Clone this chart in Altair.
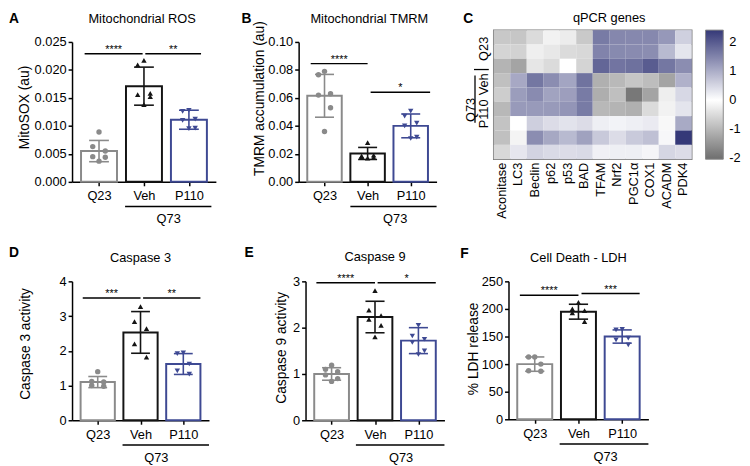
import altair as alt
import pandas as pd

FONT = "Liberation Sans"

groups = ["Q23", "Veh", "P110"]
group_colors = ["#8a8a8a", "#141414", "#3e4993"]
group_shapes = ["circle", "triangle-up", "triangle-down"]
bracket_label = "Q73"

# ---------------- A: Mitochondrial ROS ----------------
a_means = [0.0055, 0.0171, 0.0111]
a_sds = [0.0019, 0.0034, 0.0017]
a_q23 = [0.0089, 0.0063, 0.0055, 0.0045, 0.0044, 0.0037]
a_veh = [0.0217, 0.0209, 0.0158, 0.0156, 0.0152, 0.0138]
a_p110 = [0.0128, 0.0126, 0.0112, 0.0110, 0.0096, 0.0095]
a_ticks = [0, 0.005, 0.010, 0.015, 0.020, 0.025]
a_sig_x1 = [-0.32, 1.03]
a_sig_x2 = [0.97, 2.27]
a_sig_y = [0.0229, 0.0229]
a_sig_txt = ["****", "**"]

# ---------------- B: Mitochondrial TMRM ----------------
b_means = [0.0615, 0.0203, 0.0400]
b_sds = [0.0153, 0.0043, 0.0085]
b_q23 = [0.079, 0.0765, 0.063, 0.062, 0.053, 0.036]
b_veh = [0.028, 0.0185, 0.019, 0.018, 0.0175, 0.017]
b_p110 = [0.0505, 0.047, 0.042, 0.040, 0.032, 0.031]
b_ticks = [0, 0.02, 0.04, 0.06, 0.08, 0.10]
b_sig_x1 = [-0.32, 1.07]
b_sig_x2 = [1.0, 2.45]
b_sig_y = [0.0845, 0.064]
b_sig_txt = ["****", "*"]

# ---------------- D: Caspase 3 ----------------
d_means = [1.10, 2.53, 1.62]
d_sds = [0.16, 0.60, 0.30]
d_q23 = [1.40, 1.12, 1.10, 1.00, 0.98]
d_veh = [3.27, 2.84, 2.64, 2.20, 1.82]
d_p110 = [1.94, 1.92, 1.62, 1.42, 1.33]
d_ticks = [0, 1, 2, 3, 4]
d_sig_x1 = [-0.35, 1.06]
d_sig_x2 = [1.0, 2.4]
d_sig_y = [3.52, 3.52]
d_sig_txt = ["***", "**"]

# ---------------- E: Caspase 9 ----------------
e_means = [1.00, 2.23, 1.72]
e_sds = [0.135, 0.34, 0.28]
e_q23 = [1.19, 1.10, 1.05, 0.98, 0.90, 0.84]
e_veh = [2.80, 2.38, 2.26, 2.18, 2.05, 1.80]
e_p110 = [2.05, 1.82, 1.75, 1.68, 1.50, 1.42]
e_ticks = [0, 1, 2, 3]
e_sig_x1 = [-0.35, 1.06]
e_sig_x2 = [1.0, 2.4]
e_sig_y = [2.97, 2.97]
e_sig_txt = ["****", "*"]

# ---------------- F: Cell Death - LDH ----------------
f_means = [100, 195, 150]
f_sds = [13, 13.5, 12]
f_q23 = [113, 113, 100, 88, 87]
f_veh = [212, 200, 197, 193, 177]
f_p110 = [163, 162, 147, 144, 135]
f_ticks = [0, 50, 100, 150, 200, 250]
f_sig_x1 = [-0.34, 1.07]
f_sig_x2 = [1.0, 2.4]
f_sig_y = [225, 228]
f_sig_txt = ["****", "***"]

# ---------------- C: qPCR heatmap ----------------
genes = ["Aconitase", "LC3", "Beclin", "p62", "p53", "BAD", "TFAM", "Nrf2",
         "PGC1α", "COX1", "ACADM", "PDK4"]
heat_q23 = [
    [-0.77, -0.80, -0.50, -0.18, -0.27, -0.76, 1.60, 1.45, 1.44, 1.44, 1.25, 0.57],
    [-0.60, -0.63, -0.22, -0.32, -0.50, -0.55, 1.50, 1.42, 1.40, 1.38, 0.84, 0.32],
    [-1.05, -1.28, -0.35, -0.50, 0.00, -0.60, 1.85, 1.68, 1.72, 1.97, 1.65, 1.38],
]
heat_veh = [
    [-0.88, 1.05, 1.65, 1.38, 1.09, 1.70, -1.10, -0.98, -0.80, -0.93, -1.27, 0.94],
    [-0.70, 1.19, 1.40, 1.12, 1.17, 1.60, -1.13, -0.90, -1.89, -1.27, -0.24, 0.47],
    [-1.00, 1.22, 1.22, 1.22, 1.28, 1.60, -1.00, -1.05, -1.10, -0.50, -0.18, 0.32],
]
heat_p110 = [
    [-0.84, 0.00, 0.58, 0.42, 0.34, 0.42, 0.20, 0.15, 0.20, 0.25, -0.10, 1.03],
    [-0.88, -0.15, 1.38, 1.06, 0.84, 1.13, 0.65, 0.42, 0.64, 0.76, 0.10, 2.40],
    [-0.55, 0.30, 0.53, 0.45, 0.42, 0.45, 0.18, 0.20, 0.20, 0.12, 0.50, 0.42],
]
heat_domain = [-2.03, 0, 2.4]
heat_colors = ["#6e6e6e", "#ffffff", "#353978"]
legend_values = [2, 1, 0, -1, -2]

spread = [0, -0.14, 0.14, -0.14, 0.14, 0]
XDOM = [-0.6, 2.6]


def one(**kw):
    return pd.DataFrame([kw])


def bar_panel(letter, title, ytitle, ymax, yticks, yfmt, means, sds, pts,
              sx1, sx2, sy, stxt, w, h, lay):
    top = lay.get("top", 0)
    vh = h + top
    xs = alt.Scale(domain=XDOM, nice=False, zero=False)
    ys = alt.Scale(domain=[0, ymax], nice=False, zero=False, range=[vh, top])
    xaxis = alt.Axis(values=[0, 1, 2], labelExpr=f"{groups}[datum.value]", title=None,
                     tickSize=4, labelPadding=4, labelFlush=False, grid=False)
    yaxis = alt.Axis(values=yticks, format=yfmt, title=ytitle, tickSize=4, labelPadding=2,
                     titleX=lay["tx"], titleY=lay["ty"] + top, grid=False, labelFlush=False)

    def X(f):
        return alt.X(f, scale=xs, axis=xaxis)

    def Y(f):
        return alt.Y(f, scale=ys, axis=yaxis)

    cscale = alt.Scale(domain=groups, range=group_colors)
    col = alt.Color("group:N", scale=cscale, legend=None)

    bars = pd.DataFrame({"group": groups, "idx": [0, 1, 2], "mean": means, "sd": sds})
    base = alt.Chart(bars).transform_calculate(
        left="datum.idx - 0.4", right="datum.idx + 0.4",
        lo="datum.mean - datum.sd", hi="datum.mean + datum.sd",
        cl="datum.idx - 0.22", cr="datum.idx + 0.22")
    bar = base.mark_bar(fill="white", strokeWidth=2).encode(
        x=X("left:Q"), x2="right", y=Y("mean:Q"), y2=alt.datum(0),
        stroke=alt.Stroke("group:N", scale=cscale, legend=None))
    err = base.mark_rule(strokeWidth=1.6).encode(x=X("idx:Q"), y=Y("lo:Q"), y2="hi", color=col)
    cap_hi = base.mark_rule(strokeWidth=1.6).encode(x=X("cl:Q"), x2="cr", y=Y("hi:Q"), color=col)
    cap_lo = base.mark_rule(strokeWidth=1.6).encode(x=X("cl:Q"), x2="cr", y=Y("lo:Q"), color=col)

    rows = []
    for gi, vals in enumerate(pts):
        for j, v in enumerate(vals):
            rows.append({"group": groups[gi], "px": gi + spread[j], "value": v})
    pdf = pd.DataFrame(rows)
    points = alt.Chart(pdf).mark_point(filled=True, size=30, opacity=1).encode(
        x=X("px:Q"), y=Y("value:Q"), color=col,
        shape=alt.Shape("group:N", scale=alt.Scale(domain=groups, range=group_shapes), legend=None))

    sdf = pd.DataFrame({"x1": sx1, "x2": sx2, "y": sy, "t": stxt})
    sbase = alt.Chart(sdf).transform_calculate(xm="(datum.x1 + datum.x2) / 2")
    srule = sbase.mark_rule(strokeWidth=1.5, color="black").encode(x=X("x1:Q"), x2="x2", y=Y("y:Q"))
    stext = sbase.mark_text(fontSize=11, baseline="alphabetic", dy=-1, color="black").encode(
        x=X("xm:Q"), y=Y("y:Q"), text="t:N")

    bdf = one(b1=lay["b1"], b2=lay["b2"], bm=lay["bm"], name=bracket_label)
    bbase = alt.Chart(bdf)
    brule = bbase.mark_rule(strokeWidth=1.5, color="black").encode(
        x=X("b1:Q"), x2="b2", y=alt.value(vh + 25))
    btext = bbase.mark_text(fontSize=13, baseline="alphabetic", color="black").encode(
        x=X("bm:Q"), y=alt.value(vh + 42), text="name:N")

    let = alt.Chart(one(t=letter)).mark_text(
        fontSize=14, fontWeight="bold", align="left", baseline="alphabetic", color="black").encode(
        text="t:N", x=alt.value(lay["lx"]), y=alt.value(lay["ly"]))
    ttl = alt.Chart(one(t=title, tc=lay["tc"])).mark_text(
        fontSize=13, align="center", baseline="alphabetic", color="black").encode(
        text="t:N", x=X("tc:Q"), y=alt.value(lay["cy"]))

    return alt.layer(bar, err, cap_hi, cap_lo, points, srule, stext, brule, btext, let, ttl).properties(
        width=w, height=vh)


pa = bar_panel("A", "Mitochondrial ROS", "MitoSOX (au)", 0.025, a_ticks, ".3f", a_means, a_sds,
               [a_q23, a_veh, a_p110], a_sig_x1, a_sig_x2, a_sig_y, a_sig_txt, 146, 142,
               dict(top=12, tx=-41, ty=66, lx=-64, ly=-7, tc=0.96, cy=-7, b1=0.58, b2=2.5, bm=1.55))
pb = bar_panel("B", "Mitochondrial TMRM", "TMRM  accumulation (au)", 0.10, b_ticks, ".2f", b_means, b_sds,
               [b_q23, b_veh, b_p110], b_sig_x1, b_sig_x2, b_sig_y, b_sig_txt, 140, 142,
               dict(top=12, tx=-33, ty=57, lx=-58, ly=-7, tc=1.04, cy=-7, b1=0.6, b2=2.6, bm=1.64))
pd_ = bar_panel("D", "Caspase 3", "Caspase 3 activity", 4, d_ticks, "d", d_means, d_sds,
                [d_q23, d_veh, d_p110], d_sig_x1, d_sig_x2, d_sig_y, d_sig_txt, 139, 141,
                dict(tx=-40, ty=63, lx=-64, ly=-25, tc=1.0, cy=-20, b1=0.58, b2=2.6, bm=1.37))
pe = bar_panel("E", "Caspase 9", "Caspase 9 activity", 3, e_ticks, "d", e_means, e_sds,
               [e_q23, e_veh, e_p110], e_sig_x1, e_sig_x2, e_sig_y, e_sig_txt, 141, 141,
               dict(tx=-17, ty=67, lx=-62, ly=-25, tc=1.0, cy=-21, b1=0.56, b2=2.6, bm=1.6))
pf = bar_panel("F", "Cell Death - LDH", "% LDH release", 250, f_ticks, "d", f_means, f_sds,
               [f_q23, f_veh, f_p110], f_sig_x1, f_sig_x2, f_sig_y, f_sig_txt, 142, 140,
               dict(tx=-28, ty=68, lx=-49, ly=-24, tc=1.0, cy=-20, b1=0.57, b2=2.6, bm=1.62))

# ---------------- heatmap panel ----------------
row_ids = [f"{g} {k}" for g in groups for k in (1, 2, 3)]
all_rows = heat_q23 + heat_veh + heat_p110
recs = []
for i, r in enumerate(all_rows):
    for j, v in enumerate(r):
        recs.append({"row": row_ids[i], "gene": genes[j], "value": v})
hdf = pd.DataFrame(recs)

HW, HH = 201, 131
gx = alt.Scale(domain=genes, paddingInner=0, paddingOuter=0)
gaxis = alt.Axis(title=None, labelAngle=270, ticks=False, domain=False, labelPadding=3,
                 labelFontSize=13, labelColor="black")
heat = alt.Chart(hdf).mark_rect().encode(
    x=alt.X("gene:N", sort=genes, scale=gx, axis=gaxis),
    y=alt.Y("row:N", sort=row_ids, scale=alt.Scale(paddingInner=0, paddingOuter=0), axis=None),
    fill=alt.Fill("value:Q", scale=alt.Scale(domain=heat_domain, range=heat_colors, interpolate="rgb"),
                  legend=alt.Legend(title=None, orient="right", offset=14, padding=0,
                                    gradientLength=HH, gradientThickness=18, values=legend_values,
                                    labelFontSize=13, labelOffset=6, labelColor="black",
                                    labelExpr="'' + datum.value",
                                    gradientStrokeColor="#888888", gradientStrokeWidth=1)),
)

lab_df = pd.DataFrame({"t": ["Q23", "Veh", "P110"], "yy": [19, 55, 85]})
row_labels = alt.Chart(lab_df).mark_text(angle=270, fontSize=13, align="center", baseline="middle",
                                         color="black").encode(
    text="t:N", x=alt.value(-9.5), y=alt.Y("yy:Q", scale=None))
q73_c = alt.Chart(one(t=bracket_label)).mark_text(angle=270, fontSize=13, align="center",
                                                  baseline="middle", color="black").encode(
    text="t:N", x=alt.value(-23.5), y=alt.value(81))
vline = alt.Chart(one(k=1)).mark_rule(strokeWidth=1.3, color="black").encode(
    x=alt.value(-19), y=alt.value(46), y2=alt.value(94))
hline = alt.Chart(one(k=1)).mark_rule(strokeWidth=1.3, color="black").encode(
    x=alt.value(-20), x2=alt.value(-5), y=alt.value(40))
c_letter = alt.Chart(one(t="C")).mark_text(fontSize=14, fontWeight="bold", align="left",
                                           baseline="alphabetic", color="black").encode(
    text="t:N", x=alt.value(-31), y=alt.value(-7))
# title centred over heatmap + colour bar (near the TFAM/Nrf2 boundary)
c_title = alt.Chart(one(t="qPCR genes", g="Nrf2")).mark_text(
    fontSize=13, align="center", baseline="alphabetic", color="black", dx=-8.4).encode(
    text="t:N", x=alt.X("g:N", sort=genes, scale=gx, axis=gaxis), y=alt.value(-8))

pc = alt.layer(heat, row_labels, q73_c, vline, hline, c_letter, c_title).properties(
    width=HW, height=HH, view=alt.ViewBackground(stroke="#7a7a7a", strokeWidth=1.5))

ind = dict(x="independent", y="independent", fill="independent", color="independent",
           stroke="independent", shape="independent")

top = alt.hconcat(pa, pb, pc, spacing=24).resolve_scale(**ind)
ef = alt.hconcat(pe, pf, spacing=13).resolve_scale(**ind)
bottom = alt.hconcat(pd_, ef, spacing=33).resolve_scale(**ind)

chart = alt.vconcat(top, bottom, spacing=18).resolve_scale(**ind).properties(padding=0).configure(
    font=FONT).configure_view(stroke="transparent").configure_axis(
    domainColor="black", domainWidth=1.5, tickColor="black", tickWidth=1.5,
    labelColor="black", titleColor="black", labelFontSize=13, titleFontSize=14,
    titleFontWeight="normal", labelFont=FONT, titleFont=FONT)

chart.save("out.html", embed_options={"renderer": "svg", "actions": False})
